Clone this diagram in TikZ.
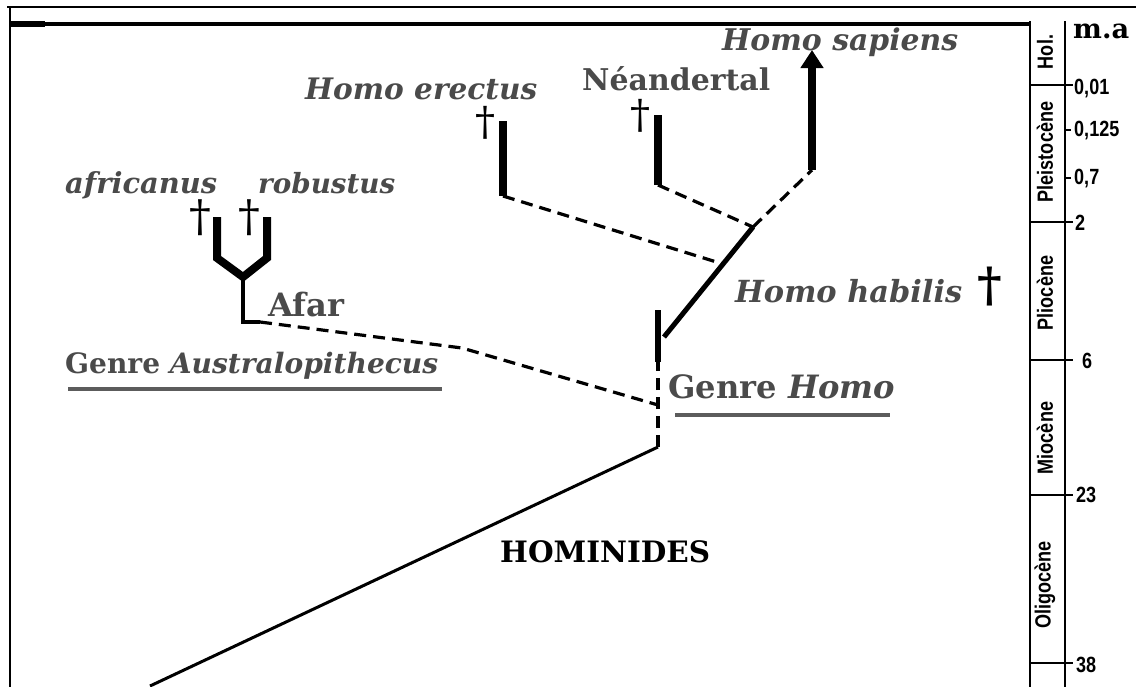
\documentclass[tikz,border=0pt]{standalone}
\usepackage{fontspec}
\usepackage{graphicx}
\setmainfont{DejaVu Serif}
\newfontfamily\rulerfont{Liberation Sans}
\usetikzlibrary{arrows.meta}
\definecolor{lab}{HTML}{4A4A4A}
\newcommand{\rtxt}[1]{\scalebox{0.82}[1]{#1}}
\begin{document}
\begin{tikzpicture}[x=1pt,y=-1pt,
  lbl/.style={inner sep=0pt, anchor=base west, text=lab, font=\bfseries},
  dag/.style={inner sep=0pt, anchor=south, text=black},
  frame/.style={line width=2.5pt, line cap=rect},
  thinline/.style={line width=3pt},
  branch/.style={line width=8pt},
  link/.style={line width=3.2pt, dash pattern=on 12pt off 7pt},
  uline/.style={line width=3.5pt, color=lab!90},
  rl/.style={inner sep=0pt, anchor=west, font=\rulerfont\bfseries\fontsize{22}{22}\selectfont},
  per/.style={inner sep=0pt, rotate=90, font=\rulerfont\bfseries\fontsize{22}{22}\selectfont},
  tick/.style={line width=2.5pt}]
\useasboundingbox (0,0) rectangle (1136,686);
\fill[white] (0,0) rectangle (1136,686);
% frame
\draw[frame] (8,7) -- (1136,7);
\draw[frame] (10,7) -- (10,686);
\draw[line width=3.5pt] (10,24) -- (1030,24);
\draw[line width=6pt] (10,24) -- (45,24);
% time column
\draw[frame] (1030,22) -- (1030,686);
\draw[frame] (1065,22) -- (1065,686);
\foreach \yy in {85,222,360,495,663} \draw[tick] (1030,\yy) -- (1073,\yy);
\foreach \yy in {130,178} \draw[tick] (1065,\yy) -- (1071,\yy);
\node[inner sep=0pt, anchor=base west, font=\bfseries] (ma) at (1073,38) {\resizebox{56pt}{!}{m.a}};
\node[rl] (t1) at (1074,89) {\rtxt{0,01}};
\node[rl] (t2) at (1074,131) {\rtxt{0,125}};
\node[rl] (t3) at (1074,179) {\rtxt{0,7}};
\node[rl] (t4) at (1075,223) {\rtxt{2}};
\node[rl] (t5) at (1082,361) {\rtxt{6}};
\node[rl] (t6) at (1076,495) {\rtxt{23}};
\node[rl] (t7) at (1076,665) {\rtxt{38}};
\node[per] (p1) at (1045,52) {\rtxt{Hol.}};
\node[per] (p2) at (1045,152) {\rtxt{Pleistocène}};
\node[per] (p3) at (1045,293) {\rtxt{Pliocène}};
\node[per] (p4) at (1045,438) {\rtxt{Miocène}};
\node[per] (p5) at (1045,585) {\rtxt{Oligocène}};
% tree coordinates
\coordinate (root) at (150,686);
\coordinate (hom) at (658,447);
\coordinate (homJ) at (658,405);
\coordinate (homoB) at (658,362);
\coordinate (homoT) at (658,310);
\coordinate (habA) at (664,337);
\coordinate (habB) at (753,227);
\coordinate (sapB) at (812,170);
\coordinate (sapT) at (812,50);
\coordinate (neaT) at (658,115);
\coordinate (neaB) at (658,185);
\coordinate (ereT) at (503,121);
\coordinate (ereB) at (503,196);
\coordinate (ereJ) at (723,264);
\coordinate (afar) at (260,322);
\coordinate (afarK) at (462,348);
\coordinate (stemB) at (243,322);
\coordinate (fk) at (243,277);
\coordinate (lpT) at (217,217);
\coordinate (lpB) at (217,258);
\coordinate (rpT) at (267,217);
\coordinate (rpB) at (267,258);
% connectors
\draw[thinline] (root) -- (hom);
\draw[link] (hom) -- (homoB);
\draw[line width=6pt] (homoB) -- (homoT);
\draw[line width=5pt] (habA) -- (habB);
\draw[link] (habB) -- (sapB);
\draw[line width=8pt, -{Triangle[width=22pt,length=18pt]}] (sapB) -- (sapT);
\draw[line width=7.5pt] (neaT) -- (neaB);
\draw[link] (neaB) -- (habB);
\draw[line width=8pt] (ereT) -- (ereB);
\draw[link] (ereB) -- (ereJ);
\draw[link] (afar) -- (afarK) -- (homJ);
\draw[line width=3.5pt] (fk) -- (stemB) -- (afar);
\draw[branch, line join=miter] (lpT) -- (lpB) -- (fk) -- (rpB) -- (rpT);
% daggers
\node[dag] (d1) at (200,236) {\resizebox*{!}{36pt}{†}};
\node[dag] (d2) at (249,236) {\resizebox*{!}{36pt}{†}};
\node[dag] (d3) at (485,140) {\resizebox*{!}{33pt}{†}};
\node[dag] (d4) at (640,133) {\resizebox*{!}{33pt}{†}};
\node[dag] (d5) at (990,306) {\resizebox*{!}{39pt}{\bfseries †}};
% labels
\node[lbl] (sap) at (722,50) {\resizebox{236pt}{!}{\itshape Homo sapiens}};
\node[lbl] (nea) at (582,90) {\resizebox{188pt}{!}{Néandertal}};
\node[lbl] (ere) at (305,99) {\resizebox{232pt}{!}{\itshape Homo erectus}};
\node[lbl] (afr) at (65,193) {\resizebox{152pt}{!}{\itshape africanus}};
\node[lbl] (rob) at (258,193) {\resizebox{137pt}{!}{\itshape robustus}};
\node[lbl] (afa) at (268,316) {\resizebox{76pt}{!}{Afar}};
\node[lbl] (gau) at (65,373) {\resizebox{373pt}{!}{Genre \itshape Australopithecus}};
\node[lbl] (hab) at (735,302) {\resizebox{227pt}{!}{\itshape Homo habilis}};
\node[lbl] (gho) at (668,398) {\resizebox{227pt}{!}{Genre \itshape Homo}};
\node[lbl, text=black] (hmn) at (500,562) {\resizebox{210pt}{!}{HOMINIDES}};
\draw[uline] (68,389) -- (442,389);
\draw[uline] (675,415) -- (890,415);
\end{tikzpicture}
\end{document}
